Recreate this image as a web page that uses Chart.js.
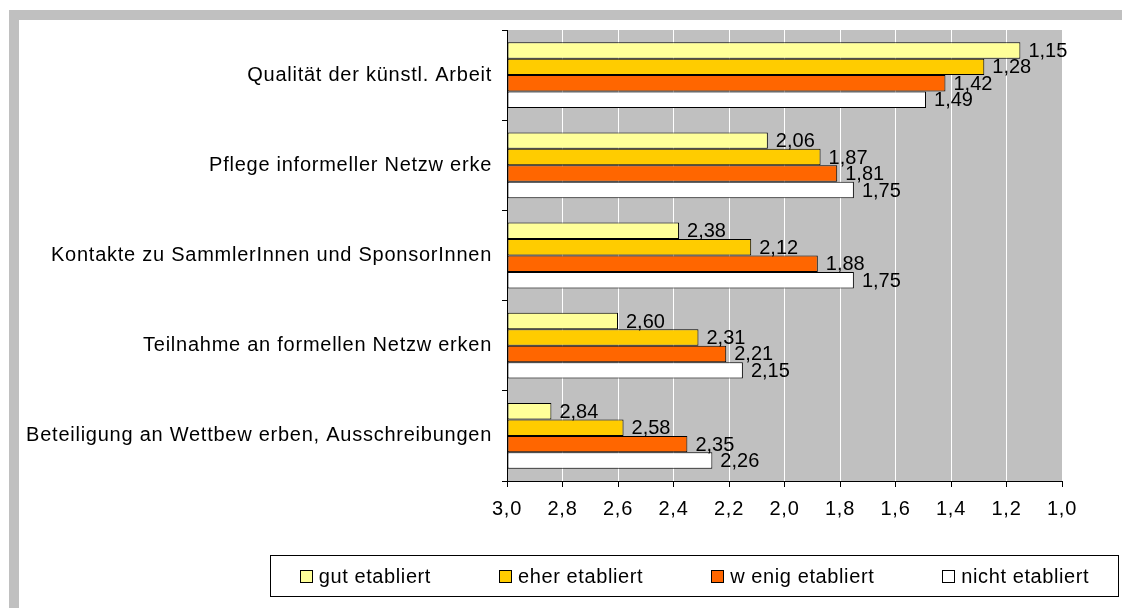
<!DOCTYPE html>
<html>
<head>
<meta charset="utf-8">
<script src="https://cdn.jsdelivr.net/npm/chart.js@4.4.1/dist/chart.umd.min.js"></script>
<style>
  html, body { margin: 0; padding: 0; background: #ffffff; }
  #wrap { position: relative; width: 1122px; height: 608px; overflow: hidden; }
  .frameTop { position: absolute; left: 9px; top: 10px; width: 1113px; height: 10px; background: #C0C0C0; }
  .frameLeft { position: absolute; left: 9px; top: 10px; width: 10px; height: 598px; background: #C0C0C0; }
  #c { position: absolute; left: 0; top: 0; }
  #legend {
    position: absolute; left: 270px; top: 555px; width: 847px; height: 40px;
    border: 1.5px solid #000; box-sizing: content-box;
    display: flex; align-items: center; justify-content: center; gap: 68px;
    font-family: "Liberation Sans", Arial, sans-serif; font-size: 20px; color: #000;
    letter-spacing: 0.6px;
  }
  .item { display: flex; align-items: center; white-space: pre; }
  .sw { width: 11px; height: 11px; border: 1.5px solid #000; margin-right: 6px; }
</style>
</head>
<body>
<div id="wrap">
  <div class="frameTop"></div>
  <div class="frameLeft"></div>
  <canvas id="c" width="1122" height="608"></canvas>
  <div id="legend"></div>
</div>
<script>
const categories = [
  "Qualität der künstl. Arbeit",
  "Pflege informeller Netzw erke",
  "Kontakte zu SammlerInnen und SponsorInnen",
  "Teilnahme an formellen Netzw erken",
  "Beteiligung an Wettbew erben, Ausschreibungen"
];
const seriesNames = ["gut etabliert", "eher etabliert", "w enig etabliert", "nicht etabliert"];
const gutEtabliert   = [1.15, 2.06, 2.38, 2.60, 2.84];
const eherEtabliert  = [1.28, 1.87, 2.12, 2.31, 2.58];
const wenigEtabliert = [1.42, 1.81, 1.88, 2.21, 2.35];
const nichtEtabliert = [1.49, 1.75, 1.75, 2.15, 2.26];
const seriesColors = ["#FFFF99", "#FFCC00", "#FF6600", "#FFFFFF"];
const xTickValues = [3.0, 2.8, 2.6, 2.4, 2.2, 2.0, 1.8, 1.6, 1.4, 1.2, 1.0];

const FONT = "'Liberation Sans', Arial, sans-serif";
const fmt1 = v => v.toFixed(1).replace('.', ',');
const fmt2 = v => v.toFixed(2).replace('.', ',');

const seriesValues = [gutEtabliert, eherEtabliert, wenigEtabliert, nichtEtabliert];

const spacing = {
  id: 'spacing',
  beforeUpdate(chart) { chart.ctx.letterSpacing = '0.75px'; },
  beforeLayout(chart) { chart.ctx.letterSpacing = '0.75px'; },
  beforeDraw(chart) { chart.ctx.letterSpacing = '0.75px'; }
};

const plotBg = {
  id: 'plotBg',
  beforeDraw(chart) {
    const {ctx, chartArea: a} = chart;
    ctx.save();
    ctx.fillStyle = '#C0C0C0';
    ctx.fillRect(a.left, a.top, a.right - a.left, a.bottom - a.top);
    ctx.restore();
  }
};

const valueLabels = {
  id: 'valueLabels',
  afterDatasetsDraw(chart) {
    const ctx = chart.ctx;
    ctx.save();
    ctx.letterSpacing = '0px';
    ctx.font = '20px ' + FONT;
    ctx.fillStyle = '#000';
    ctx.textAlign = 'left';
    ctx.textBaseline = 'middle';
    chart.data.datasets.forEach((ds, di) => {
      const meta = chart.getDatasetMeta(di);
      meta.data.forEach((el, i) => {
        const end = Math.max(el.x, el.base);
        ctx.fillText(fmt2(ds.data[i]), end + 8, el.y + 1);
      });
    });
    ctx.restore();
  }
};

new Chart(document.getElementById('c'), {
  type: 'bar',
  data: {
    labels: categories,
    datasets: seriesNames.map((n, k) => ({
      label: n,
      data: seriesValues[k],
      base: 3,
      backgroundColor: seriesColors[k],
      borderColor: '#000',
      borderWidth: 1,
      borderSkipped: false,
      categoryPercentage: 0.73,
      barPercentage: 1.0
    }))
  },
  options: {
    indexAxis: 'y',
    responsive: false,
    animation: false,
    layout: { padding: { left: 0, top: 30, right: 60, bottom: 77 } },
    plugins: { legend: { display: false }, tooltip: { enabled: false } },
    scales: {
      x: {
        type: 'linear',
        min: 1, max: 3, reverse: true,
        afterBuildTicks(scale) { scale.ticks = xTickValues.map(v => ({ value: v })); },
        afterFit(scale) { scale.height = 50; },
        ticks: {
          callback: v => fmt1(v),
          font: { family: FONT, size: 20 },
          color: '#000',
          padding: 10,
          maxRotation: 0
        },
        grid: { color: '#FFFFFF', lineWidth: 1, tickColor: '#000', tickLength: 6, drawTicks: true },
        border: { display: true, color: '#000', width: 1 }
      },
      y: {
        afterFit(scale) { scale.width = 507; },
        ticks: {
          font: { family: FONT, size: 20 },
          color: '#000',
          padding: 10
        },
        grid: { offset: true, drawOnChartArea: false, tickColor: '#000', tickLength: 5, drawTicks: true },
        border: { display: true, color: '#000', width: 1 }
      }
    }
  },
  plugins: [spacing, plotBg, valueLabels]
});

const legend = document.getElementById('legend');
seriesNames.forEach((n, k) => {
  const it = document.createElement('div');
  it.className = 'item';
  const sw = document.createElement('div');
  sw.className = 'sw';
  sw.style.background = seriesColors[k];
  const tx = document.createElement('span');
  tx.textContent = n;
  it.appendChild(sw); it.appendChild(tx);
  legend.appendChild(it);
});
</script>
</body>
</html>
